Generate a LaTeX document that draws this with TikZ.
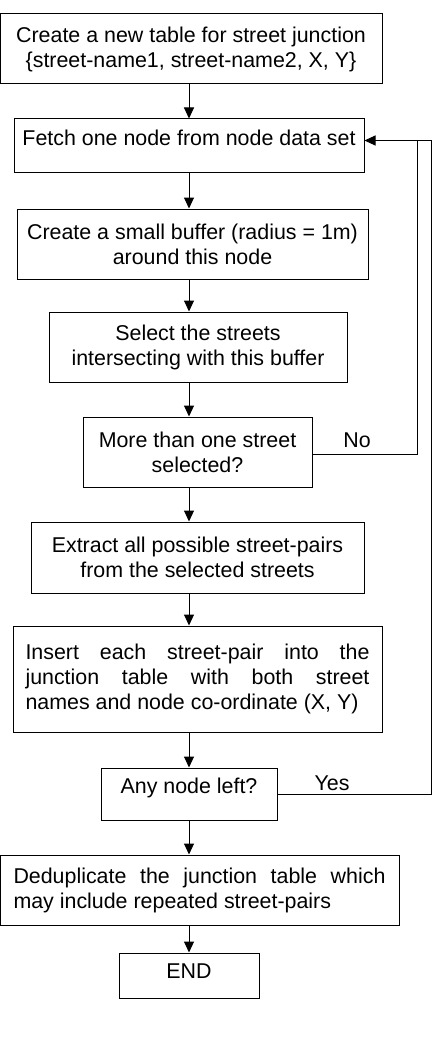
\documentclass[tikz,border=0pt]{standalone}
\usepackage{fontspec}
\setmainfont{Liberation Sans}
\usetikzlibrary{arrows.meta,positioning}
\hbadness=10000

\begin{document}
\begin{tikzpicture}[
  x=1pt, y=-1pt,
  box/.style={rectangle, draw, line width=1pt, align=center, inner sep=2pt,
    font=\fontsize{21.4}{25}\selectfont},
  arrow/.style={-{Triangle[length=11pt, width=10pt]}, line width=1pt},
  tag/.style={font=\fontsize{21.4}{25}\selectfont, inner sep=0pt},
]
\useasboundingbox (0,0) rectangle (432,1038);

% === MAIN STEPS ===
\node[box, minimum width=382, minimum height=70] (create) at (191,49)
  {Create a new table for street junction\\\{street-name1, street-name2, X, Y\}};
\node[box, minimum width=350, minimum height=53, text depth=15pt] (fetch) at (189,145.5)
  {Fetch one node from node data set};
\node[box, minimum width=351, minimum height=70] (buffer) at (192.5,244)
  {Create a small buffer (radius = 1m)\\around this node};
\node[box, minimum width=298, minimum height=70] (select) at (198,347)
  {Select the streets\\intersecting with this buffer};
\node[box, minimum width=229, minimum height=70] (multi) at (197.5,452)
  {More than one street\\selected?};
\node[box, minimum width=333, minimum height=71] (extract) at (197.5,557.5)
  {Extract all possible street-pairs\\from the selected streets};
\node[box, minimum width=369, minimum height=106, text width=344, align=justify] (insert) at (197.5,679)
  {Insert each street-pair into the\linebreak junction table with both street\linebreak names and node co-ordinate (X,~Y)};
\node[box, minimum width=176, minimum height=52, text depth=16pt] (left) at (189,794)
  {Any node left?};
\node[box, minimum width=399, minimum height=70, text width=372, align=justify] (dedup) at (199.5,890)
  {Deduplicate the junction table which\linebreak may include repeated street-pairs};
\node[box, minimum width=140, minimum height=45, text depth=9pt] (finish) at (189,975.5)
  {END};

% === FLOW ===
\coordinate (spine) at (189,0);
\draw[arrow] (create.south -| spine) -- (fetch.north -| spine);
\draw[arrow] (fetch.south -| spine) -- (buffer.north -| spine);
\draw[arrow] (buffer.south -| spine) -- (select.north -| spine);
\draw[arrow] (select.south -| spine) -- (multi.north -| spine);
\draw[arrow] (multi.south -| spine) -- (extract.north -| spine);
\draw[arrow] (extract.south -| spine) -- (insert.north -| spine);
\draw[arrow] (insert.south -| spine) -- (left.north -| spine);
\draw[arrow] (left.south -| spine) -- (dedup.north -| spine);
\draw[arrow] (dedup.south -| spine) -- (finish.north -| spine);

% === LOOPS BACK ===
\coordinate (noX) at (417,0);
\coordinate (yesX) at (431,0);
\coordinate (back) at ([yshift=5pt]fetch.east);
\draw[arrow] ([yshift=-2pt]multi.east) -| (noX |- back) -- (back);
\draw[line width=1pt] (left.east) -| (yesX |- back) -- (noX |- back);
\node[tag] (no) at (357,440) {No};
\node[tag] (yes) at (332,783) {Yes};
\end{tikzpicture}
\end{document}
